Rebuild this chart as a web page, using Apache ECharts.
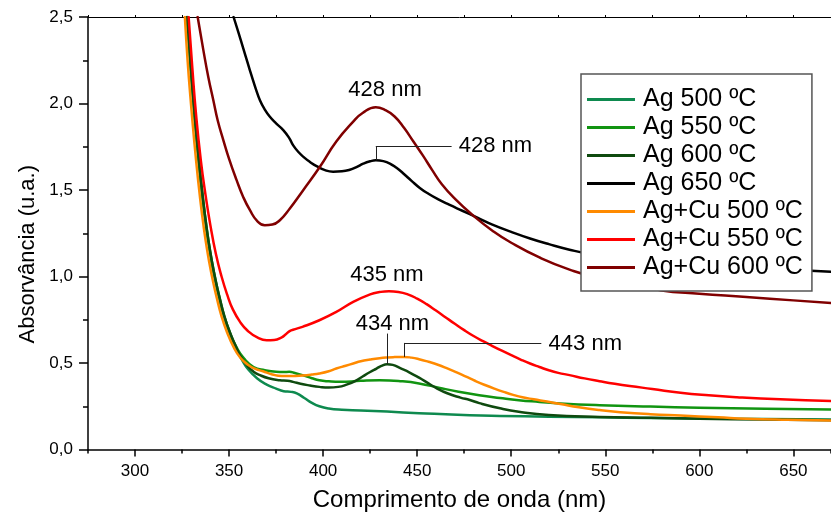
<!DOCTYPE html>
<html>
<head>
<meta charset="utf-8">
<script src="https://cdn.jsdelivr.net/npm/echarts@6/dist/echarts.min.js"></script>
<style>
  html, body { margin: 0; padding: 0; background: #fff; }
  #chart { width: 831px; height: 512px; }
</style>
</head>
<body>
<div id="chart"></div>
<script>
// UV-Vis absorbance spectra: [wavelength (nm), absorbance (u.a.)]
const ag500 = [[327.5,2.5],[329.2,2.24],[330.7,2.03],[332.7,1.78],[334.7,1.56],[336.7,1.37],[338.7,1.21],[340.7,1.08],[342.7,0.97],[344.7,0.875],[347.2,0.77],[350.2,0.675],[354,0.58],[357,0.515],[360,0.465],[365,0.41],[370,0.375],[375,0.352],[379,0.337],[383,0.333],[386,0.324],[390,0.298],[394,0.27],[398,0.25],[403,0.237],[410,0.23],[420,0.226],[434,0.219],[451,0.21],[478,0.198],[494,0.194],[520,0.19],[547,0.186],[574,0.182],[600,0.179],[635,0.176],[670,0.174]];
const ag550 = [[327.8,2.5],[329.5,2.24],[331,2.03],[333,1.78],[335,1.56],[337,1.37],[339,1.21],[341,1.08],[343,0.97],[345,0.875],[347.5,0.77],[350.5,0.675],[354,0.59],[358,0.525],[363,0.477],[369,0.458],[375,0.449],[379,0.448],[382,0.449],[385,0.442],[389,0.43],[394,0.412],[398,0.4],[403,0.394],[409,0.391],[420,0.397],[430,0.4],[441,0.395],[451,0.382],[462,0.356],[472,0.334],[483,0.314],[494,0.298],[504,0.285],[515,0.275],[526,0.266],[547,0.256],[574,0.248],[600,0.242],[635,0.236],[670,0.231]];
const ag600 = [[327.8,2.5],[329.5,2.24],[331,2.03],[333,1.78],[335,1.56],[337,1.37],[339,1.21],[341,1.08],[343,0.97],[345,0.875],[347.5,0.77],[350.5,0.675],[354,0.585],[356,0.54],[360,0.48],[363,0.45],[366.4,0.43],[371,0.412],[377,0.4],[381,0.397],[384,0.391],[388,0.38],[393,0.37],[398,0.362],[403,0.358],[408,0.362],[412.5,0.375],[417,0.395],[421,0.422],[425,0.448],[428.4,0.468],[431,0.483],[434,0.493],[437,0.489],[441,0.47],[446,0.445],[451,0.415],[456,0.382],[460,0.356],[466,0.325],[473,0.3],[478,0.286],[483,0.268],[494,0.238],[504,0.218],[520,0.199],[547,0.188],[574,0.183],[600,0.178],[635,0.173],[670,0.169]];
const ag650 = [[352.4,2.5],[355,2.41],[357.5,2.32],[360,2.23],[362,2.16],[364.2,2.085],[366.4,2.019],[369,1.965],[371.7,1.923],[375,1.885],[378.8,1.846],[382,1.8],[384.1,1.758],[387,1.718],[390,1.687],[393,1.662],[396.5,1.638],[401,1.615],[405.3,1.606],[410,1.608],[414.2,1.617],[418,1.634],[421.3,1.652],[425,1.666],[428,1.672],[432,1.667],[435.5,1.653],[439,1.628],[442.5,1.597],[447,1.553],[451.4,1.512],[456,1.478],[461,1.447],[467,1.415],[474,1.38],[482,1.34],[490,1.3],[500,1.258],[510,1.22],[520,1.187],[531,1.155],[545,1.123],[560,1.1],[580,1.082],[600,1.068],[630,1.05],[662,1.032],[670,1.027]];
const agCu500 = [[326.5,2.5],[328,2.24],[329.5,2.03],[331.5,1.78],[333.5,1.56],[335.5,1.37],[337.5,1.21],[339.5,1.08],[341.5,0.97],[343.5,0.875],[346,0.77],[349,0.675],[352.5,0.59],[356,0.53],[360,0.49],[364,0.466],[368,0.452],[373,0.434],[378,0.425],[383,0.425],[389,0.428],[394,0.433],[398,0.439],[403,0.452],[407,0.468],[412,0.484],[416,0.497],[420,0.51],[425,0.52],[430,0.528],[434,0.532],[438,0.534],[443,0.535],[447,0.531],[451,0.522],[456,0.507],[461,0.49],[466,0.469],[471,0.446],[476,0.421],[481,0.396],[486,0.373],[491,0.352],[496,0.333],[501,0.316],[506,0.302],[512,0.29],[519,0.277],[527,0.261],[536,0.244],[547,0.228],[558,0.216],[574,0.204],[590,0.196],[610,0.186],[625,0.178],[647,0.172],[670,0.168]];
const agCu550 = [[328.5,2.5],[330.5,2.2],[332.5,1.93],[335,1.67],[337.5,1.47],[340,1.3],[343,1.13],[346,1.0],[349,0.895],[352,0.81],[356,0.735],[360,0.685],[365,0.648],[370,0.632],[374,0.633],[378,0.648],[380,0.665],[382,0.683],[384,0.692],[389,0.709],[398,0.747],[407,0.795],[416,0.853],[425,0.897],[430,0.91],[435,0.915],[440,0.911],[445,0.897],[450,0.872],[455,0.84],[460,0.803],[465,0.765],[470,0.727],[475,0.69],[480,0.656],[485,0.626],[490,0.598],[495,0.571],[500,0.545],[505,0.52],[510,0.497],[515,0.477],[520,0.458],[525,0.443],[531,0.43],[539,0.411],[547,0.395],[555,0.38],[563,0.367],[575,0.35],[590,0.328],[605,0.313],[620,0.302],[643,0.29],[670,0.281]];
const agCu600 = [[333.3,2.5],[336.3,2.31],[339,2.15],[341.6,2.02],[344,1.9],[346.9,1.79],[350,1.68],[354,1.557],[357.5,1.46],[361.1,1.383],[365,1.32],[369,1.296],[373,1.3],[377,1.325],[382.3,1.393],[389.4,1.499],[398.3,1.634],[407,1.78],[416,1.895],[421,1.945],[428,1.978],[433,1.962],[438,1.925],[443,1.86],[448,1.78],[453,1.7],[458,1.615],[463,1.535],[470,1.45],[480,1.35],[490,1.265],[500,1.195],[515,1.11],[531,1.04],[550,0.98],[579,0.921],[600,0.9],[625,0.882],[650,0.862],[670,0.847]];

const seriesNames = ['Ag 500 ºC','Ag 550 ºC','Ag 600 ºC','Ag 650 ºC','Ag+Cu 500 ºC','Ag+Cu 550 ºC','Ag+Cu 600 ºC'];
const seriesData = [ag500, ag550, ag600, ag650, agCu500, agCu550, agCu600];
const seriesColors = ['#0E8A4F','#119411','#0F4A0F','#000000','#FF8A00','#FF0000','#800000'];

const majorTicks = [300, 350, 400, 450, 500, 550, 600, 650];

// peak annotations: label anchor and optional leader lines (data coordinates)
const notes = {
  'Ag+Cu 600 ºC': { labels: [{ text: '428 nm', at: [432.9, 2.077], align: 'center' }], leaders: [] },
  'Ag 650 ºC': { labels: [{ text: '428 nm', at: [471.8, 1.754], align: 'left' }],
                 leaders: [[[428, 1.672], [428, 1.753]], [[428, 1.753], [468.3, 1.753]]] },
  'Ag+Cu 550 ºC': { labels: [{ text: '435 nm', at: [433.9, 1.008], align: 'center' }], leaders: [] },
  'Ag 600 ºC': { labels: [{ text: '434 nm', at: [436.8, 0.728], align: 'center' }],
                 leaders: [[[434, 0.493], [434, 0.67]]] },
  'Ag+Cu 500 ºC': { labels: [{ text: '443 nm', at: [519.6, 0.6075], align: 'left' }],
                    leaders: [[[443, 0.535], [443, 0.616]], [[443, 0.616], [516, 0.616]]] }
};

const FONT = 'Liberation Sans, Arial, Helvetica, sans-serif';

const series = seriesNames.map((name, i) => {
  const s = {
    name,
    type: 'line',
    data: seriesData[i],
    xAxisIndex: 0,
    yAxisIndex: 0,
    showSymbol: false,
    symbol: 'none',
    smooth: 0.5,
    clip: true,
    lineStyle: { color: seriesColors[i], width: 2.5, join: 'round', cap: 'round' },
    itemStyle: { color: seriesColors[i] },
    emphasis: { disabled: true },
    z: 2
  };
  const n = notes[name];
  if (n) {
    s.markPoint = {
      silent: true,
      symbol: 'circle',
      symbolSize: 1,
      itemStyle: { color: 'rgba(0,0,0,0)' },
      data: n.labels.map(l => ({
        coord: l.at,
        label: {
          show: true,
          formatter: l.text,
          position: l.align === 'left' ? 'right' : 'inside',
          distance: 0,
          color: '#000',
          fontSize: 22,
          fontFamily: FONT
        }
      }))
    };
    if (n.leaders.length) {
      s.markLine = {
        silent: true,
        symbol: ['none', 'none'],
        label: { show: false },
        lineStyle: { color: '#222', width: 1, type: 'solid' },
        emphasis: { disabled: true },
        data: n.leaders.map(seg => [{ coord: seg[0] }, { coord: seg[1] }])
      };
    }
  }
  return s;
});

const chart = echarts.init(document.getElementById('chart'), null, { renderer: 'canvas' });
chart.setOption({
  animation: false,
  backgroundColor: '#fff',
  textStyle: { fontFamily: FONT },
  grid: { left: 88, right: 0, top: 17, bottom: 62.5, containLabel: false, outerBoundsMode: 'none' },
  legend: {
    data: seriesNames,
    orient: 'vertical',
    left: 581,
    top: 74,
    icon: 'rect',
    itemWidth: 48,
    itemHeight: 3,
    itemGap: 3,
    padding: [13, 9, 11, 6],
    backgroundColor: '#fff',
    borderColor: '#555',
    borderWidth: 1.5,
    borderRadius: 0,
    selectedMode: false,
    z: 10,
    textStyle: { fontSize: 25, lineHeight: 25, color: '#000', fontFamily: FONT, padding: [0, 0, 0, 3] }
  },
  xAxis: [
    {
      type: 'value', min: 275, max: 670, position: 'bottom',
      name: 'Comprimento de onda (nm)', nameLocation: 'middle', nameGap: 39,
      nameTextStyle: { fontSize: 24, color: '#000', fontFamily: FONT },
      axisLine: { show: true, onZero: false, lineStyle: { color: '#000', width: 1.5 } },
      axisTick: { show: true, customValues: majorTicks, length: 7, lineStyle: { color: '#000', width: 1.5 } },
      axisLabel: { show: true, customValues: majorTicks, fontSize: 17, color: '#000', margin: 13, fontFamily: FONT },
      splitLine: { show: false }
    },
    {
      type: 'value', min: 275, max: 670, interval: 25, position: 'bottom',
      axisLine: { show: false },
      axisTick: { show: true, length: 4, lineStyle: { color: '#000', width: 1.5 } },
      axisLabel: { show: false },
      splitLine: { show: false }
    },
    {
      type: 'value', min: 275, max: 670, interval: 25, position: 'top',
      axisLine: { show: true, onZero: false, lineStyle: { color: '#000', width: 1 } },
      axisTick: { show: true, length: 2, lineStyle: { color: '#000', width: 1 } },
      axisLabel: { show: false },
      splitLine: { show: false }
    }
  ],
  yAxis: {
    type: 'value', min: 0, max: 2.5, interval: 0.5,
    name: 'Absorvância (u.a.)', nameLocation: 'middle', nameGap: 47, nameRotate: 90,
    nameTextStyle: { fontSize: 22, color: '#000', fontFamily: FONT, padding: [0, 42, 0, 0] },
    axisLine: { show: true, onZero: false, lineStyle: { color: '#000', width: 1.5 } },
    axisTick: { show: true, length: 9, lineStyle: { color: '#000', width: 1.5 } },
    minorTick: { show: true, splitNumber: 2, length: 5, lineStyle: { color: '#000', width: 1.5 } },
    axisLabel: { fontSize: 17, color: '#000', margin: 15, fontFamily: FONT,
                 formatter: v => v.toFixed(1).replace('.', ',') },
    splitLine: { show: false }
  },
  series
});
</script>
</body>
</html>
